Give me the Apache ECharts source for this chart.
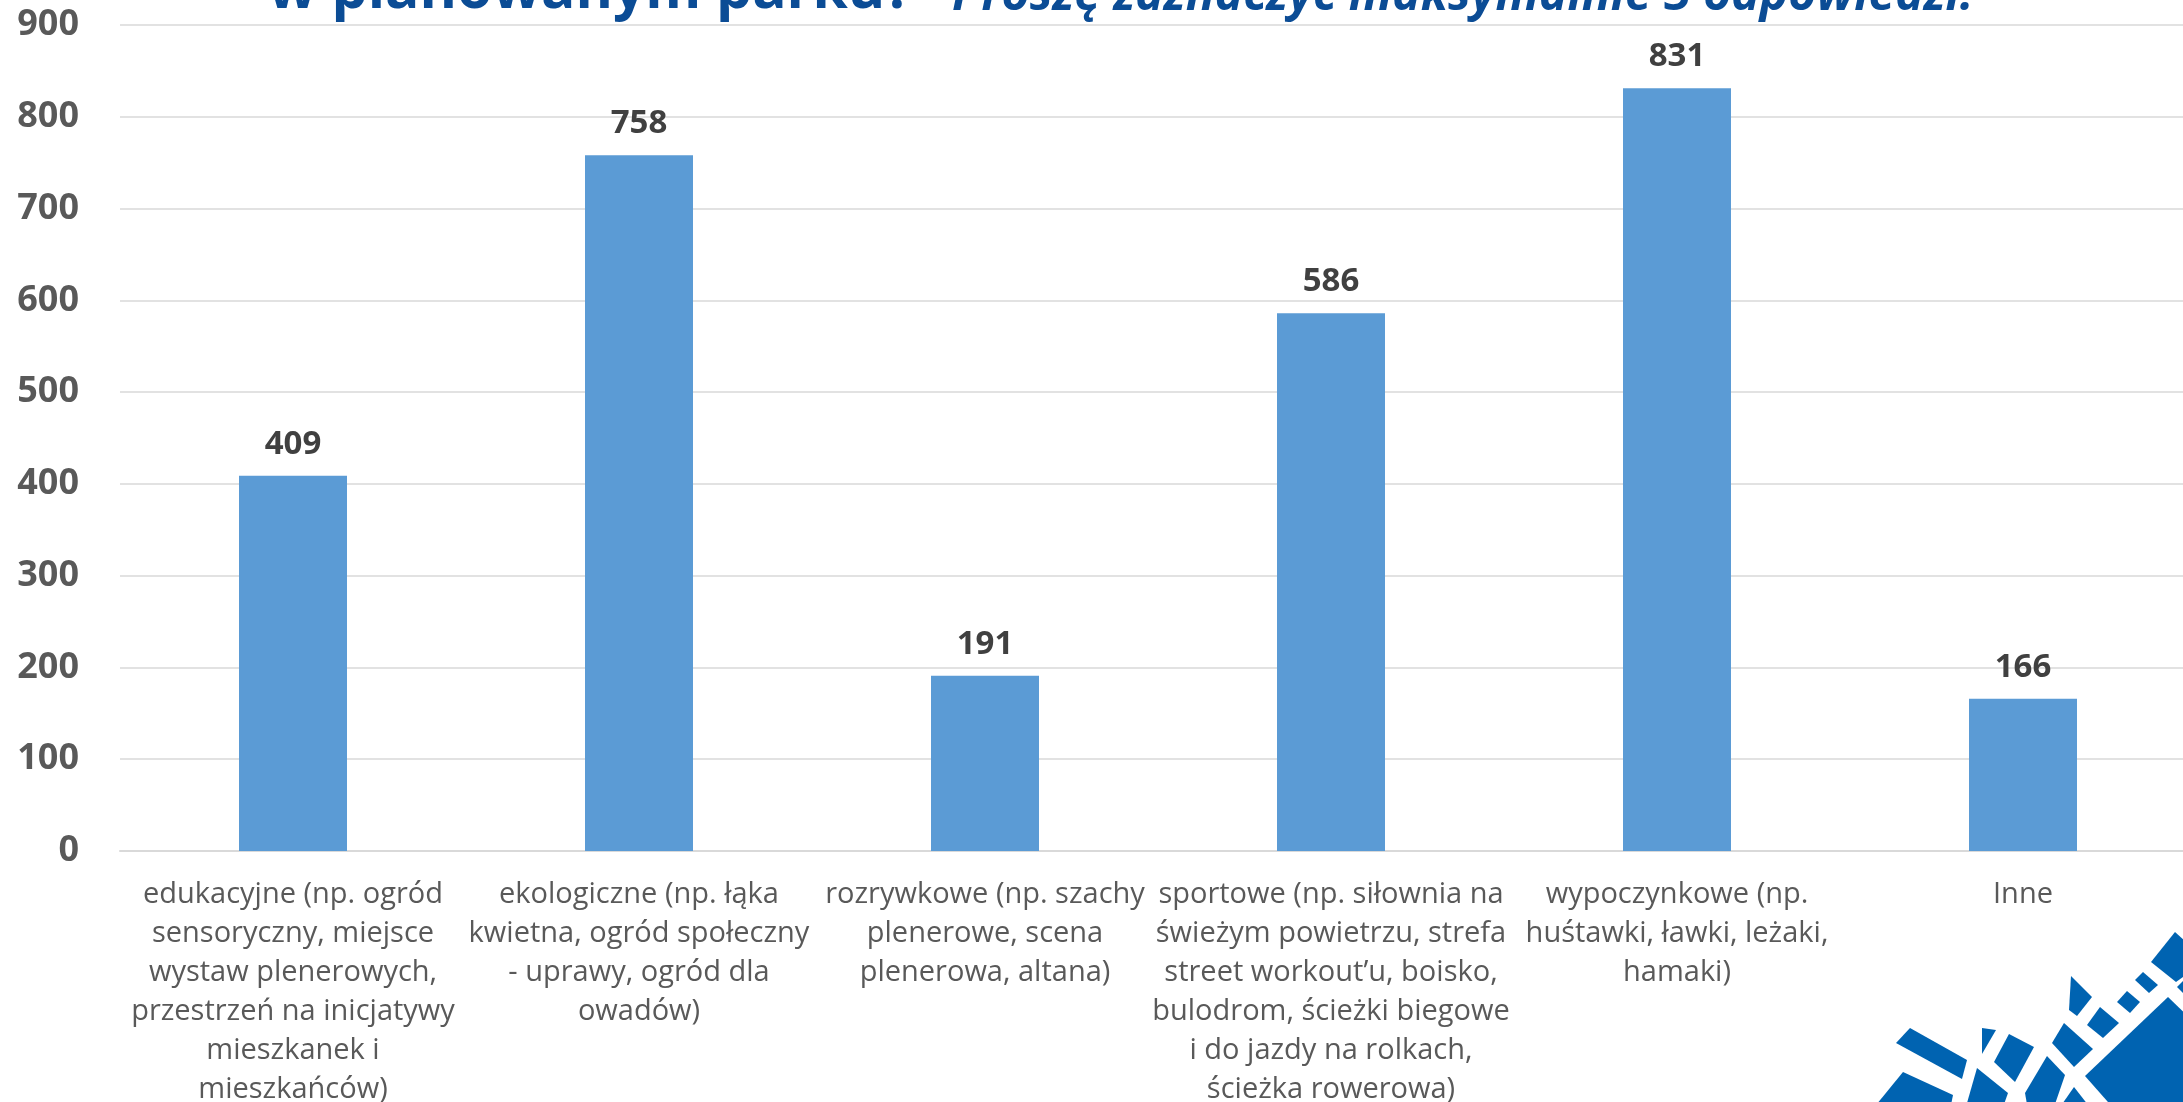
<!DOCTYPE html>
<html>
<head>
<meta charset="utf-8">
<script src="https://cdn.jsdelivr.net/npm/echarts@6/dist/echarts.min.js"></script>
<style>
  html, body { margin: 0; padding: 0; background: #fff; }
  #chart { width: 2183px; height: 1102px; }
</style>
</head>
<body>
<div id="chart"></div>
<script>
const categories = [
  "edukacyjne (np. ogród\nsensoryczny, miejsce\nwystaw plenerowych,\nprzestrzeń na inicjatywy\nmieszkanek i\nmieszkańców)",
  "ekologiczne (np. łąka\nkwietna, ogród społeczny\n- uprawy, ogród dla\nowadów)",
  "rozrywkowe (np. szachy\nplenerowe, scena\nplenerowa, altana)",
  "sportowe (np. siłownia na\nświeżym powietrzu, strefa\nstreet workout’u, boisko,\nbulodrom, ścieżki biegowe\ni do jazdy na rolkach,\nścieżka rowerowa)",
  "wypoczynkowe (np.\nhuśtawki, ławki, leżaki,\nhamaki)",
  "Inne"
];
const counts = [409, 758, 191, 586, 831, 166];

const titleMain = "w planowanym parku?  ";
const titleNote = "Proszę zaznaczyć maksymalnie 3 odpowiedzi.";

// decorative logo shapes in the bottom-right corner
const logoShapes = [
  [[2151,962],[2175,932],[2200,955],[2200,965],[2176,982]],
  [[2135,980],[2143,972],[2158,985],[2149,993]],
  [[2117,1002],[2127,991],[2140,1002],[2130,1013]],
  [[2087,1025],[2100,1007],[2119,1023],[2103,1038]],
  [[2071,976],[2092,997],[2077,1016],[2069,1010]],
  [[2052,1043],[2064,1023],[2093,1049],[2074,1067]],
  [[2085,1076],[2168,997],[2200,1028],[2200,1110],[2115,1110]],
  [[2177,987],[2183,981],[2183,993]],
  [[2025,1093],[2047,1056],[2065,1075],[2053,1110],[2028,1110]],
  [[1994,1062],[2009,1034],[2034,1047],[2015,1082]],
  [[1982,1028],[1996,1030],[1982,1054]],
  [[1896,1043],[1910,1028],[1967,1060],[1962,1079]],
  [[1872,1110],[1903,1072],[1953,1095],[1950,1110]],
  [[1965,1110],[1977,1068],[2008,1093],[2002,1110]],
  [[2058,1110],[2074,1087],[2092,1110]]
];

const chart = echarts.init(document.getElementById("chart"));

chart.setOption({
  animation: false,
  backgroundColor: "#ffffff",
  title: {
    text: "{b|" + titleMain + "}{i|" + titleNote + "}",
    left: 268,
    top: -50,
    padding: 0,
    textStyle: {
      rich: {
        b: { fontFamily: "Open Sans", fontWeight: "bold", fontSize: 57, color: "#0B4C95", lineHeight: 70, verticalAlign: "bottom" },
        i: { fontFamily: "Open Sans", fontWeight: "bold", fontStyle: "italic", fontSize: 48, color: "#0B4C95", lineHeight: 70, verticalAlign: "bottom", padding: [0, 0, 0, 10] }
      }
    }
  },
  grid: { left: 120, right: -13, top: 25, bottom: 251, outerBoundsMode: "none" },
  xAxis: {
    type: "category",
    data: categories,
    axisLine: { lineStyle: { color: "#D9D9D9", width: 2 } },
    axisTick: { show: false },
    axisLabel: {
      interval: 0,
      margin: 24,
      color: "#595959",
      fontFamily: "'Open Sans', sans-serif",
      fontSize: 29,
      lineHeight: 39,
      verticalAlign: "top"
    }
  },
  yAxis: {
    type: "value",
    min: 0,
    max: 900,
    interval: 100,
    axisLine: { show: false },
    axisTick: { show: false },
    splitLine: { lineStyle: { color: "#D9D9D9", width: 1.5 } },
    axisLabel: {
      margin: 41,
      color: "#595959",
      fontFamily: "Open Sans",
      fontWeight: "bold",
      fontSize: 36
    }
  },
  series: [{
    type: "bar",
    data: counts,
    barWidth: 108,
    itemStyle: { color: "#5B9BD5" },
    label: {
      show: true,
      position: "top",
      distance: 15,
      color: "#404040",
      fontFamily: "Open Sans",
      fontWeight: "bold",
      fontSize: 33
    }
  }],
  graphic: logoShapes.map(pts => ({
    type: "polygon",
    shape: { points: pts },
    style: { fill: "#0063B1" },
    silent: true
  }))
});
</script>
</body>
</html>
